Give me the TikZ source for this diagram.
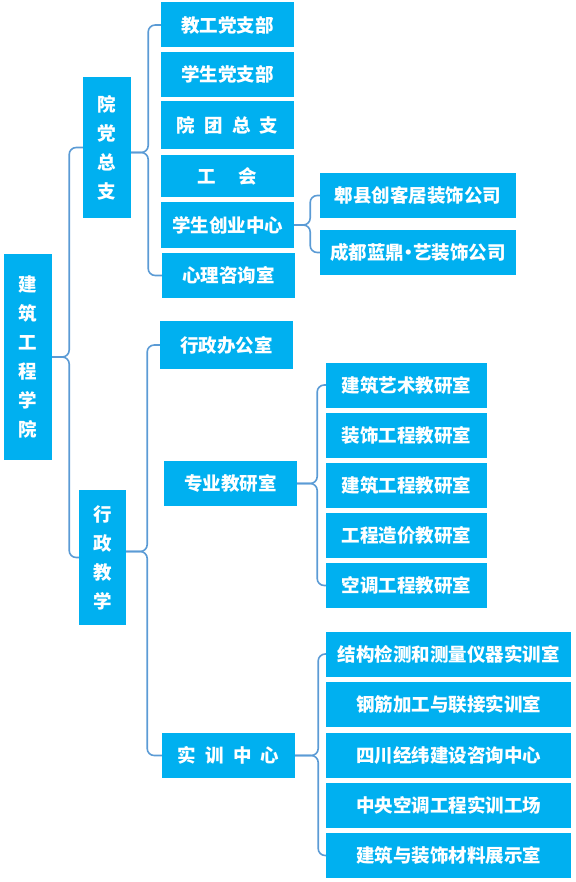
\documentclass[tikz,border=0pt]{standalone}
\usepackage{fontspec}
\newfontfamily\cjk{Noto Sans CJK SC}
\definecolor{unitblue}{HTML}{00B0F0}
\definecolor{linkblue}{HTML}{5B9BD5}
\tikzset{
  unit/.style={fill=unitblue, text=white, inner sep=0pt, font=\cjk\bfseries\fontsize{18.5}{21}\selectfont},
  vunit/.style={unit, align=center, font=\cjk\bfseries\fontsize{18.5}{29}\selectfont},
  branch/.style={unit, minimum width=133, minimum height=45},
  firm/.style={unit, minimum width=196, minimum height=45},
  lab/.style={unit, minimum width=161, minimum height=45},
  room/.style={unit, minimum width=245, minimum height=45},
  link/.style={line width=1.6pt, color=linkblue, rounded corners=7pt}
}

\begin{document}
\begin{tikzpicture}[x=1pt, y=-1pt]
\useasboundingbox (0,0) rectangle (575,882);
% college and its two halves
\node[vunit, minimum width=48, minimum height=206] (college) at (28,357) {建\\筑\\工\\程\\学\\院};
\node[vunit, minimum width=48, minimum height=141] (party) at (107,147.5) {院\\党\\总\\支};
\node[vunit, minimum width=47, minimum height=135] (admin) at (102.5,557.5) {行\\政\\教\\学};
% party branches
\node[branch] (p1) at (227.5,25) {教工党支部};
\node[branch] (p2) at (227.5,74.5) {学生党支部};
\node[branch, minimum height=48] (p3) at (227.5,125) {院\hspace{0.5em}团\hspace{0.5em}总\hspace{0.5em}支};
\node[branch, minimum height=42] (p4) at (227.5,176) {工\hspace{1.2em}会\hspace{1.5em}};
\node[branch, minimum height=46] (p5) at (227.5,225) {学生创业中心};
\node[branch] (p6) at (228.5,275.5) {心理咨询室};
\node[firm] (c1) at (418,195.5) {郫县创客居装饰公司};
\node[firm] (c2) at (418,252.5) {成都蓝鼎\kern-0.25em•\kern-0.25em艺装饰公司};
% admin and teaching
\node[branch, minimum height=48] (office) at (226.5,345) {行政办公室};
\node[branch] (teach) at (230.5,483.5) {专业教研室};
\node[branch] (train) at (228.5,755.5) {实\hspace{0.5em}训\hspace{0.5em}中\hspace{0.5em}心};
\foreach \n/\y/\t in {l1/385/建筑艺术教研室, l2/435/装饰工程教研室, l3/485.5/建筑工程教研室,
    l4/535.5/工程造价教研室, l5/585.5/空调工程教研室}
  \node[lab] (\n) at (406.5,\y) {\t};
\foreach \n/\y/\t in {r1/654/结构检测和测量仪器实训室, r2/704.5/钢筋加工与联接实训室,
    r3/755/四川经纬建设咨询中心, r4/805/中央空调工程实训工场, r5/855.5/建筑与装饰材料展示室}
  \node[room] (\n) at (448.5,\y) {\t};
% braces
\foreach \c in {party,admin} \draw[link] (college.east) -- ++(17,0) |- (\c.west);
\foreach \c in {p1,p6} \draw[link] ([yshift=-5pt]party.east) -- ++(17,0) |- (\c.west);
\foreach \c in {c1,c2} \draw[link] (p5.east) -- ++(16,0) |- (\c.west);
\foreach \c in {office,train} \draw[link] ([yshift=6pt]admin.east) -- ++(21,0) |- (\c.west);
\foreach \c in {l1,l5} \draw[link] (teach.east) -- ++(20,0) |- (\c.west);
\foreach \c in {r1,r5} \draw[link] (train.east) -- ++(23,0) |- (\c.west);
\end{tikzpicture}
\end{document}
